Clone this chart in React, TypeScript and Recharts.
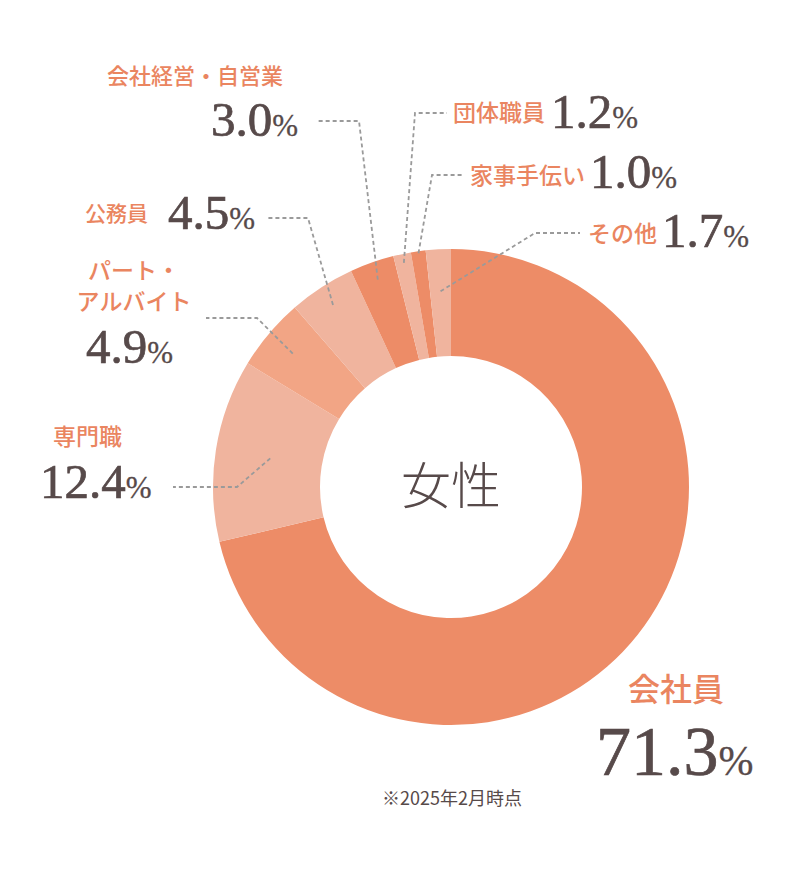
import { Pie, PieChart, Cell, Label } from "recharts";

const categories = [
  "会社員",
  "専門職",
  "パート・アルバイト",
  "公務員",
  "会社経営・自営業",
  "団体職員",
  "家事手伝い",
  "その他",
];
const shares = [71.3, 12.4, 4.9, 4.5, 3.0, 1.2, 1.0, 1.7];
const centerTitle = "女性";
const footnote = "※2025年2月時点";

const sliceColors = [
  "#ED8C67",
  "#F0B49E",
  "#F2A585",
  "#F0B49E",
  "#ED8C67",
  "#F0B49E",
  "#ED8C67",
  "#F0B49E",
];

const NAME_COLOR = "#EA8560";
const VALUE_COLOR = "#574A4A";
const LINE_COLOR = "#9A9A9A";
const JP_FONT = "'Noto Sans CJK JP', sans-serif";
const NUM_FONT = "'Liberation Serif', serif";

// label layout: leader tip radius, elbow and end of the leader, text anchors
type LabelLayout = {
  tipR: number;
  elbow?: [number, number];
  end?: [number, number];
  nameLines: string[];
  nameX: number;
  nameY: number;
  nameSize: number;
  nameAnchor: "start" | "middle" | "end";
  valueX: number;
  valueY: number;
  valueSize: number;
  pctSize: number;
};

const layouts: LabelLayout[] = [
  { tipR: 0, nameLines: ["会社員"], nameX: 628, nameY: 701, nameSize: 32, nameAnchor: "start", valueX: 596, valueY: 775, valueSize: 70, pctSize: 42 },
  { tipR: 183, elbow: [237, 487], end: [173, 487], nameLines: ["専門職"], nameX: 53, nameY: 445, nameSize: 23, nameAnchor: "start", valueX: 40, valueY: 498, valueSize: 49, pctSize: 31 },
  { tipR: 207, elbow: [257, 318], end: [206, 318], nameLines: ["パート・", "アルバイト"], nameX: 134, nameY: 279, nameSize: 23, nameAnchor: "middle", valueX: 86, valueY: 363, valueSize: 49, pctSize: 31 },
  { tipR: 217, elbow: [308, 218], end: [266, 218], nameLines: ["公務員"], nameX: 85, nameY: 221, nameSize: 21, nameAnchor: "start", valueX: 168, valueY: 229, valueSize: 49, pctSize: 31 },
  { tipR: 220, elbow: [359, 121], end: [317, 121], nameLines: ["会社経営・自営業"], nameX: 107, nameY: 84, nameSize: 22, nameAnchor: "start", valueX: 211, valueY: 136, valueSize: 49, pctSize: 31 },
  { tipR: 229, elbow: [415, 113], end: [447, 113], nameLines: ["団体職員"], nameX: 453, nameY: 121, nameSize: 23, nameAnchor: "start", valueX: 551, valueY: 128, valueSize: 49, pctSize: 31 },
  { tipR: 236, elbow: [432, 175], end: [463, 175], nameLines: ["家事手伝い"], nameX: 470, nameY: 184, nameSize: 23, nameAnchor: "start", valueX: 590, valueY: 188, valueSize: 49, pctSize: 31 },
  { tipR: 196, elbow: [535, 233], end: [580, 233], nameLines: ["その他"], nameX: 588, nameY: 242, nameSize: 23, nameAnchor: "start", valueX: 662, valueY: 247, valueSize: 49, pctSize: 31 },
];

const data = categories.map((name, i) => ({ name, value: shares[i] }));
const RADIAN = Math.PI / 180;

function SliceLabel(props: any) {
  const { cx, cy, midAngle, index, value } = props;
  const l = layouts[index];
  let leader = null;
  if (l.elbow && l.end) {
    const tx = cx + l.tipR * Math.cos(-midAngle * RADIAN);
    const ty = cy + l.tipR * Math.sin(-midAngle * RADIAN);
    leader = (
      <path
        d={`M${tx},${ty}L${l.elbow[0]},${l.elbow[1]}L${l.end[0]},${l.end[1]}`}
        fill="none"
        stroke={LINE_COLOR}
        strokeWidth={1.8}
        strokeDasharray="4 3"
      />
    );
  }
  return (
    <g>
      {leader}
      {l.nameLines.map((line, k) => (
        <text
          key={k}
          x={l.nameX}
          y={l.nameY + k * 31}
          textAnchor={l.nameAnchor}
          fill={NAME_COLOR}
          fontFamily={JP_FONT}
          fontSize={l.nameSize}
          fontWeight={500}
        >
          {line}
        </text>
      ))}
      <text
        x={l.valueX}
        y={l.valueY}
        fill={VALUE_COLOR}
        stroke={VALUE_COLOR}
        strokeWidth={0.7}
        fontFamily={NUM_FONT}
        fontSize={l.valueSize}
      >
        {Number(value).toFixed(1)}
        <tspan fontSize={l.pctSize} strokeWidth={0.3}>%</tspan>
      </text>
    </g>
  );
}

export default function App() {
  return (
    <div
      style={{
        position: "absolute",
        left: 0,
        top: 0,
        width: 800,
        height: 870,
        background: "#fff",
      }}
    >
      <PieChart
        width={800}
        height={870}
        margin={{ top: 0, right: 0, bottom: 0, left: 0 }}
      >
        <Pie
          data={data}
          dataKey="value"
          nameKey="name"
          cx={451}
          cy={487}
          innerRadius={131}
          outerRadius={238}
          startAngle={90}
          endAngle={-270}
          stroke="none"
          label={SliceLabel}
          labelLine={false}
          isAnimationActive={false}
        >
          {data.map((d, i) => (
            <Cell key={d.name} fill={sliceColors[i]} />
          ))}
          <Label
            position="center"
            content={() => (
              <text
                x={451}
                y={504}
                textAnchor="middle"
                fill={VALUE_COLOR}
                fontFamily={JP_FONT}
                fontSize={50}
                fontWeight={300}
              >
                {centerTitle}
              </text>
            )}
          />
        </Pie>
      </PieChart>
      <div
        style={{
          position: "absolute",
          left: 0,
          top: 784,
          width: 904,
          textAlign: "center",
          fontFamily: JP_FONT,
          fontSize: 18,
          color: VALUE_COLOR,
        }}
      >
        {footnote}
      </div>
    </div>
  );
}
